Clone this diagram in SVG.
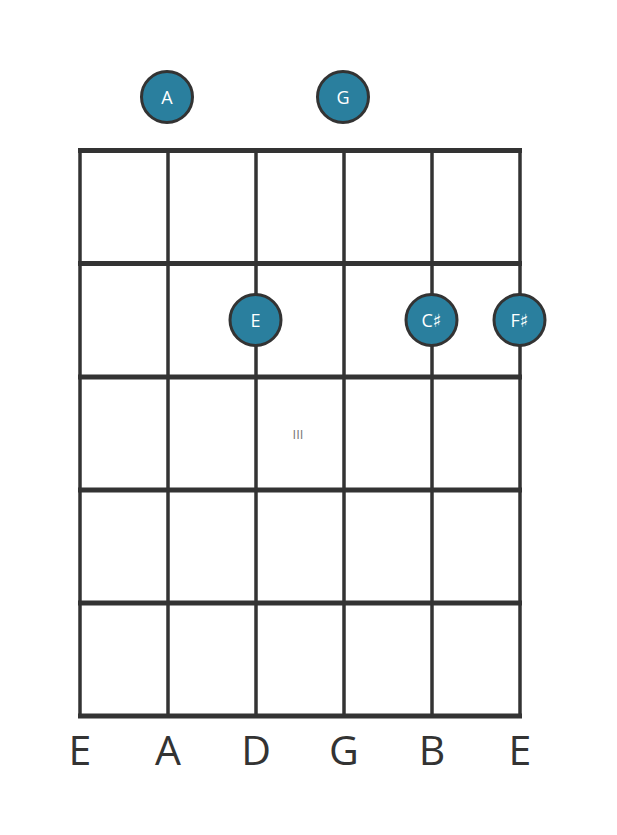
<svg xmlns="http://www.w3.org/2000/svg" width="617" height="835" viewBox="0 0 617 835">
<style>
.fret{stroke:#333;stroke-width:5;}
.str{stroke:#333;stroke-width:3.5;}
.note circle{fill:#2a7f9e;stroke:#333;stroke-width:3;}
.note text{fill:#fff;font-family:"Open Sans","DejaVu Sans",sans-serif;font-size:18px;text-anchor:middle;dominant-baseline:central;}
.lbl{fill:#333;font-family:"Open Sans","DejaVu Sans",sans-serif;font-size:41px;text-anchor:middle;}
.pos{fill:#777;font-family:"Open Sans","DejaVu Sans",sans-serif;font-size:13px;text-anchor:middle;}
</style>
<rect width="617" height="835" fill="#fff"/>
<g id="connectors">
<line class="str" x1="80" y1="150" x2="80" y2="716"/>
<line class="str" x1="168" y1="150" x2="168" y2="716"/>
<line class="str" x1="256" y1="150" x2="256" y2="716"/>
<line class="str" x1="344" y1="150" x2="344" y2="716"/>
<line class="str" x1="432" y1="150" x2="432" y2="716"/>
<line class="str" x1="520" y1="150" x2="520" y2="716"/>
<line class="fret" x1="78" y1="150.5" x2="522" y2="150.5"/>
<line class="fret" x1="78" y1="263.5" x2="522" y2="263.5"/>
<line class="fret" x1="78" y1="377" x2="522" y2="377"/>
<line class="fret" x1="78" y1="490" x2="522" y2="490"/>
<line class="fret" x1="78" y1="603" x2="522" y2="603"/>
<line class="fret" x1="78" y1="716" x2="522" y2="716"/>
</g>
<text class="pos" x="298" y="439">III</text>
<g id="note-A" class="note"><circle cx="167" cy="97" r="25.5"/><text x="167" y="97">A</text></g>
<g id="note-G" class="note"><circle cx="343" cy="97" r="25.5"/><text x="343" y="97">G</text></g>
<g id="note-E" class="note"><circle cx="255.5" cy="320" r="25.5"/><text x="255.5" y="320">E</text></g>
<g id="note-Cs" class="note"><circle cx="431.5" cy="320" r="25.5"/><text x="431.5" y="320">C♯</text></g>
<g id="note-Fs" class="note"><circle cx="519.5" cy="320" r="25.5"/><text x="519.5" y="320">F♯</text></g>
<g id="labels">
<text class="lbl" x="80" y="765">E</text>
<text class="lbl" x="168" y="765">A</text>
<text class="lbl" x="256" y="765">D</text>
<text class="lbl" x="344" y="765">G</text>
<text class="lbl" x="432" y="765">B</text>
<text class="lbl" x="520" y="765">E</text>
</g>
</svg>
